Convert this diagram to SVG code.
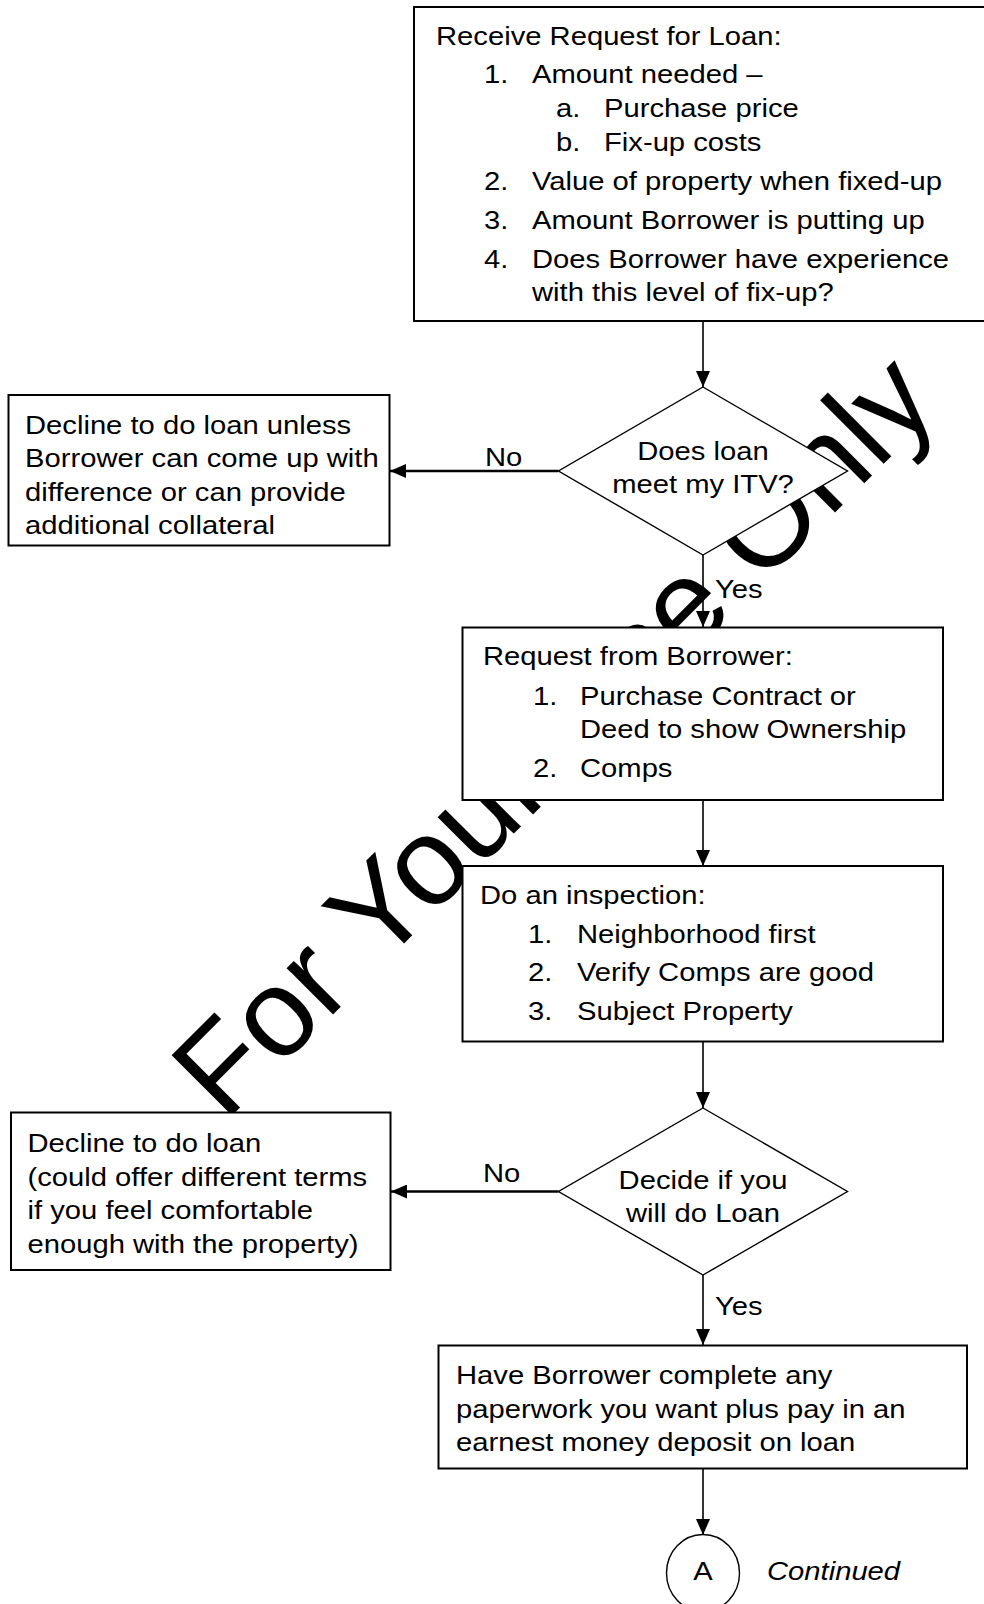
<svg xmlns="http://www.w3.org/2000/svg" width="984" height="1604" viewBox="0 0 984 1604">
<style>
.t{font-family:"Liberation Sans",Arial,sans-serif;font-size:25.5px;fill:#000}
.c{text-anchor:middle}
.i{font-style:italic}
.wm{font-family:"Liberation Sans",Arial,sans-serif;font-size:124px;fill:#000}
.box{fill:#fff;stroke:#000;stroke-width:2}
.dia{fill:#fff;stroke:#000;stroke-width:1.4}
.circ{fill:#fff;stroke:#000;stroke-width:1.4}
.con{fill:none;stroke:#000;stroke-width:1.6;marker-end:url(#ah)}
.no{stroke-width:2.4}
</style>
<defs>
<marker id="ah" markerUnits="userSpaceOnUse" markerWidth="16" markerHeight="14" viewBox="0 0 16 14" refX="16" refY="7" orient="auto">
<path d="M0,0 L16,7 L0,14 z" fill="#000"/>
</marker>
</defs>
<rect width="984" height="1604" fill="#fff"/>
<g id="watermark">
<text class="wm" transform="translate(224.7 1122.7) rotate(-45)">For Your Use Only</text>
</g>
<g id="receive">
<rect class="box" x="414" y="7" width="580" height="314"/>
<text class="t" transform="matrix(1.145 0 0 1 436 44.5)">Receive Request for Loan:</text>
<text class="t" transform="matrix(1.145 0 0 1 484 83)">1.</text>
<text class="t" transform="matrix(1.145 0 0 1 532 83)">Amount needed –</text>
<text class="t" transform="matrix(1.145 0 0 1 556 117)">a.</text>
<text class="t" transform="matrix(1.145 0 0 1 604 117)">Purchase price</text>
<text class="t" transform="matrix(1.145 0 0 1 556 150.5)">b.</text>
<text class="t" transform="matrix(1.145 0 0 1 604 150.5)">Fix-up costs</text>
<text class="t" transform="matrix(1.145 0 0 1 484 190)">2.</text>
<text class="t" transform="matrix(1.145 0 0 1 532 190)">Value of property when fixed-up</text>
<text class="t" transform="matrix(1.145 0 0 1 484 229)">3.</text>
<text class="t" transform="matrix(1.145 0 0 1 532 229)">Amount Borrower is putting up</text>
<text class="t" transform="matrix(1.145 0 0 1 484 268)">4.</text>
<text class="t" transform="matrix(1.145 0 0 1 532 268)">Does Borrower have experience</text>
<text class="t" transform="matrix(1.145 0 0 1 532 300.5)">with this level of fix-up?</text>
</g>
<g id="itv">
<polygon class="dia" points="703,387 847.5,471 703,555 558.5,471"/>
<text class="t c" transform="matrix(1.145 0 0 1 703 459.5)">Does loan</text>
<text class="t c" transform="matrix(1.145 0 0 1 703 492.5)">meet my ITV?</text>
</g>
<g id="decline1">
<rect class="box" x="8.5" y="395" width="381" height="150.5"/>
<text class="t" transform="matrix(1.145 0 0 1 25 433.5)">Decline to do loan unless</text>
<text class="t" transform="matrix(1.145 0 0 1 25 467)">Borrower can come up with</text>
<text class="t" transform="matrix(1.145 0 0 1 25 500.5)">difference or can provide</text>
<text class="t" transform="matrix(1.145 0 0 1 25 534)">additional collateral</text>
</g>
<g id="request">
<rect class="box" x="462.5" y="627.5" width="480.5" height="172.5"/>
<text class="t" transform="matrix(1.145 0 0 1 483 665)">Request from Borrower:</text>
<text class="t" transform="matrix(1.145 0 0 1 533 705)">1.</text>
<text class="t" transform="matrix(1.145 0 0 1 580 705)">Purchase Contract or</text>
<text class="t" transform="matrix(1.145 0 0 1 580 737.5)">Deed to show Ownership</text>
<text class="t" transform="matrix(1.145 0 0 1 533 777)">2.</text>
<text class="t" transform="matrix(1.145 0 0 1 580 777)">Comps</text>
</g>
<g id="inspection">
<rect class="box" x="462.5" y="866" width="480.5" height="175.5"/>
<text class="t" transform="matrix(1.145 0 0 1 480 903.5)">Do an inspection:</text>
<text class="t" transform="matrix(1.145 0 0 1 528 942.5)">1.</text>
<text class="t" transform="matrix(1.145 0 0 1 577 942.5)">Neighborhood first</text>
<text class="t" transform="matrix(1.145 0 0 1 528 981)">2.</text>
<text class="t" transform="matrix(1.145 0 0 1 577 981)">Verify Comps are good</text>
<text class="t" transform="matrix(1.145 0 0 1 528 1020)">3.</text>
<text class="t" transform="matrix(1.145 0 0 1 577 1020)">Subject Property</text>
</g>
<g id="decide">
<polygon class="dia" points="703,1108 847.5,1191.5 703,1275 558.5,1191.5"/>
<text class="t c" transform="matrix(1.145 0 0 1 703 1188.5)">Decide if you</text>
<text class="t c" transform="matrix(1.145 0 0 1 703 1221.5)">will do Loan</text>
</g>
<g id="decline2">
<rect class="box" x="11" y="1112.5" width="379.5" height="157.5"/>
<text class="t" transform="matrix(1.145 0 0 1 27.5 1151.5)">Decline to do loan</text>
<text class="t" transform="matrix(1.145 0 0 1 27.5 1185.5)">(could offer different terms</text>
<text class="t" transform="matrix(1.145 0 0 1 27.5 1218.5)">if you feel comfortable</text>
<text class="t" transform="matrix(1.145 0 0 1 27.5 1253)">enough with the property)</text>
</g>
<g id="paperwork">
<rect class="box" x="438.5" y="1345.5" width="528.5" height="123"/>
<text class="t" transform="matrix(1.145 0 0 1 456 1383.5)">Have Borrower complete any</text>
<text class="t" transform="matrix(1.145 0 0 1 456 1417.5)">paperwork you want plus pay in an</text>
<text class="t" transform="matrix(1.145 0 0 1 456 1450.5)">earnest money deposit on loan</text>
</g>
<g id="connectorA">
<ellipse class="circ" cx="703" cy="1573" rx="36.5" ry="38.5"/>
<text class="t c" transform="matrix(1.145 0 0 1 703 1580)">A</text>
<text class="t i" transform="matrix(1.145 0 0 1 767 1580)">Continued</text>
</g>
<g id="connectors">
<line class="con" x1="703" y1="321" x2="703" y2="387"/>
<line class="con no" x1="558.5" y1="471" x2="390" y2="471"/>
<line class="con" x1="703" y1="555" x2="703" y2="627"/>
<line class="con" x1="703" y1="800" x2="703" y2="866"/>
<line class="con" x1="703" y1="1041.5" x2="703" y2="1108"/>
<line class="con no" x1="558.5" y1="1191.5" x2="391" y2="1191.5"/>
<line class="con" x1="703" y1="1275" x2="703" y2="1345"/>
<line class="con" x1="703" y1="1468.5" x2="703" y2="1535"/>
</g>
<g id="labels">
<text class="t" transform="matrix(1.145 0 0 1 485 466)">No</text>
<text class="t" transform="matrix(1.145 0 0 1 715 598)">Yes</text>
<text class="t" transform="matrix(1.145 0 0 1 483 1181.5)">No</text>
<text class="t" transform="matrix(1.145 0 0 1 715 1315)">Yes</text>
</g>
</svg>
